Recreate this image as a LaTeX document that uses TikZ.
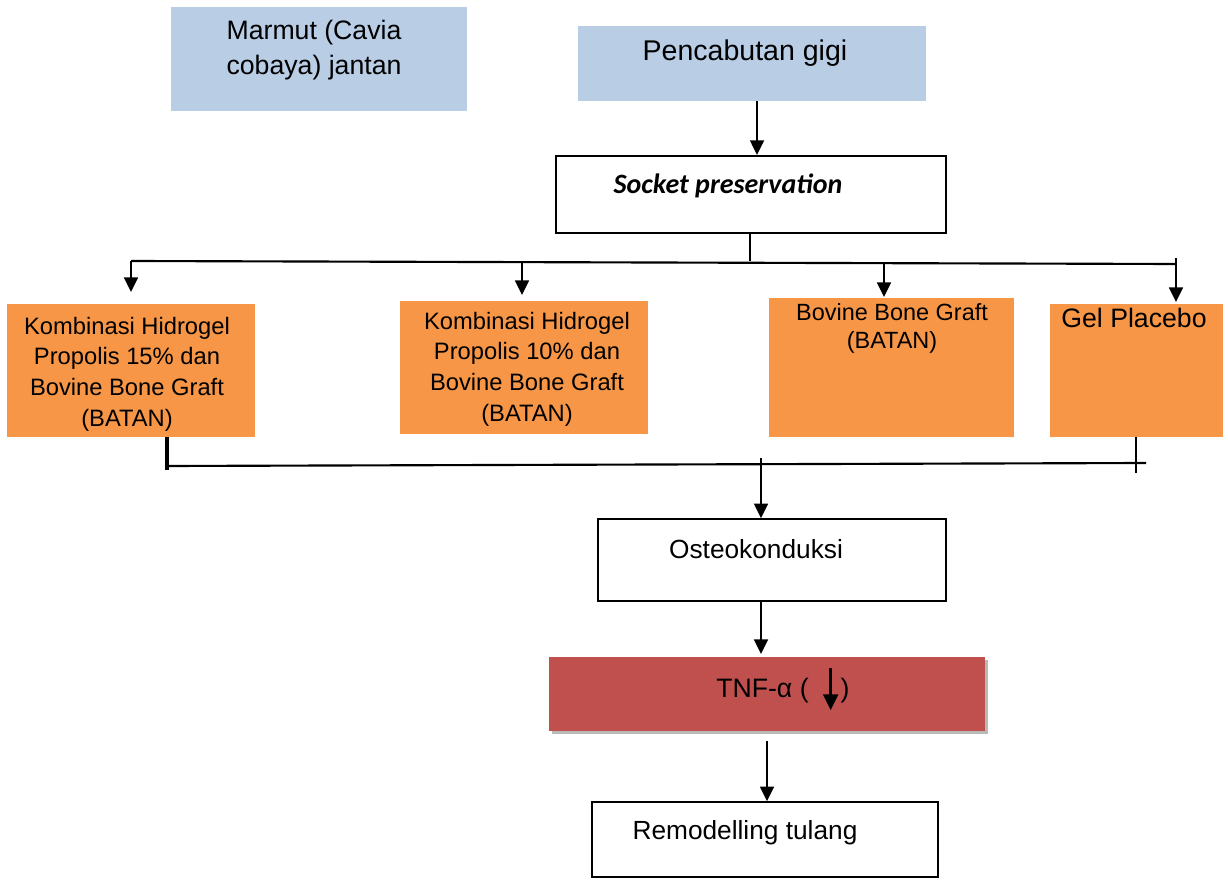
\documentclass[tikz,border=0pt]{standalone}
\usepackage{fontspec}
\setmainfont{Liberation Sans}
\newfontfamily\calib{Carlito}
\usetikzlibrary{arrows.meta}
\definecolor{boxblue}{HTML}{B9CDE5}
\definecolor{boxorange}{HTML}{F79646}
\definecolor{boxred}{HTML}{C0504D}
\tikzset{
  bluebox/.style={fill=boxblue, draw=none, inner sep=0pt},
  orangebox/.style={fill=boxorange, draw=none, inner sep=0pt},
  whitebox/.style={fill=white, draw=black, line width=1.3pt, inner sep=0pt},
  redbox/.style={fill=boxred, draw=none, inner sep=0pt},
  txt/.style={align=center, inner sep=0pt, text=black},
  conn/.style={line width=1.3pt},
  heavy/.style={line width=1.6pt},
  arr/.style={line width=1.3pt, -{Triangle[width=10.5pt,length=11pt]}},
}
\begin{document}
\begin{tikzpicture}[x=0.75pt, y=-0.75pt]
\useasboundingbox (0,0) rectangle (1228,880);

% top boxes
\node[bluebox, minimum width=296*0.75pt, minimum height=104*0.75pt] (marmut) at (319,59) {};
\node[txt, font=\fontsize{20}{26.3}\selectfont] (marmuttxt) at (314,50.5) {Marmut (Cavia\\cobaya) jantan};

\node[bluebox, minimum width=348*0.75pt, minimum height=75*0.75pt] (pencabutan) at (752,63.5) {};
\node[txt, font=\fontsize{21.4}{26}\selectfont] (pencabutantxt) at (745,53) {Pencabutan gigi};

\node[whitebox, line width=1.6pt, minimum width=390*0.75pt, minimum height=77*0.75pt] (socket) at (751,194.5) {};
\node[txt, font=\calib\bfseries\itshape\fontsize{21}{26}\selectfont] (sockettxt) at (728,186) {Socket preservation};

% treatment boxes
\node[orangebox, minimum width=248*0.75pt, minimum height=133*0.75pt] (b1) at (131,370.5) {};
\node[txt, font=\fontsize{17.8}{23}\selectfont] (b1txt) at (127,374) {Kombinasi Hidrogel\\Propolis 15\% dan\\Bovine Bone Graft\\(BATAN)};

\node[orangebox, minimum width=248*0.75pt, minimum height=133*0.75pt] (b2) at (524,367.5) {};
\node[txt, font=\fontsize{17.8}{23}\selectfont] (b2txt) at (527,369) {Kombinasi Hidrogel\\Propolis 10\% dan\\Bovine Bone Graft\\(BATAN)};

\node[orangebox, minimum width=245*0.75pt, minimum height=139*0.75pt] (b3) at (891.5,367.5) {};
\node[txt, font=\fontsize{17.6}{21}\selectfont] (b3txt) at (892,328) {Bovine Bone Graft\\(BATAN)};

\node[orangebox, minimum width=173*0.75pt, minimum height=133*0.75pt] (b4) at (1136.5,370.5) {};
\node[txt, font=\fontsize{20}{24}\selectfont] (b4txt) at (1134,318) {Gel Placebo};

% lower boxes
\node[whitebox, line width=1.2pt, minimum width=348*0.75pt, minimum height=82*0.75pt] (osteo) at (772,560) {};
\node[txt, font=\fontsize{19.7}{24}\selectfont] (osteotxt) at (756,549) {Osteokonduksi};

\fill[gray!55] (552,660) rectangle (988,734);
\node[redbox, minimum width=436*0.75pt, minimum height=74*0.75pt] (tnf) at (767,694) {};
\node[txt, font=\fontsize{20}{24}\selectfont, anchor=base west] (tnftxt) at (716,697)
  {TNF-α (\hspace{0.55em}\tikz[baseline=0pt]\draw[line width=2.3pt,-{Triangle[width=11pt,length=12pt]}] (0pt,22pt) -- (0pt,-10pt);\hspace{0.1em})};

\node[whitebox, line width=1.2pt, minimum width=346*0.75pt, minimum height=75*0.75pt] (remod) at (765,839.5) {};
\node[txt, font=\fontsize{19.7}{24}\selectfont] (remodtxt) at (745,833) {Remodelling tulang};

% connectors top
\draw[arr] (pencabutan.south -| 757,0) -- (socket.north -| 757,0);
\coordinate (splitA) at (750,261.5);
\draw[conn] (socket.south -| splitA) -- (splitA);
\coordinate (hl) at (131,261);
\coordinate (hr) at (1176,264);
\draw[heavy] (hl) -- (hr);
\draw[arr] (hl) -- (131,292);
\draw[arr] (522,261.5) -- (522,295);
\draw[arr] (884,263) -- (884,297);
\draw[arr] (1176,258) -- (1176,302);

% connectors lower
\coordinate (ll) at (167,466);
\coordinate (lr) at (1146,463);
\draw[line width=2.4pt] (b1.south -| ll) -- (167,470);
\draw[conn] (b4.south -| 1136,0) -- (1136,473);
\draw[heavy] (ll) -- (lr);
\draw[arr] (761,458) -- (osteo.north -| 761,0);
\draw[arr] (osteo.south -| 761,0) -- (761,654);
\draw[arr] (767,741) -- (remod.north -| 767,0);
\end{tikzpicture}
\end{document}
